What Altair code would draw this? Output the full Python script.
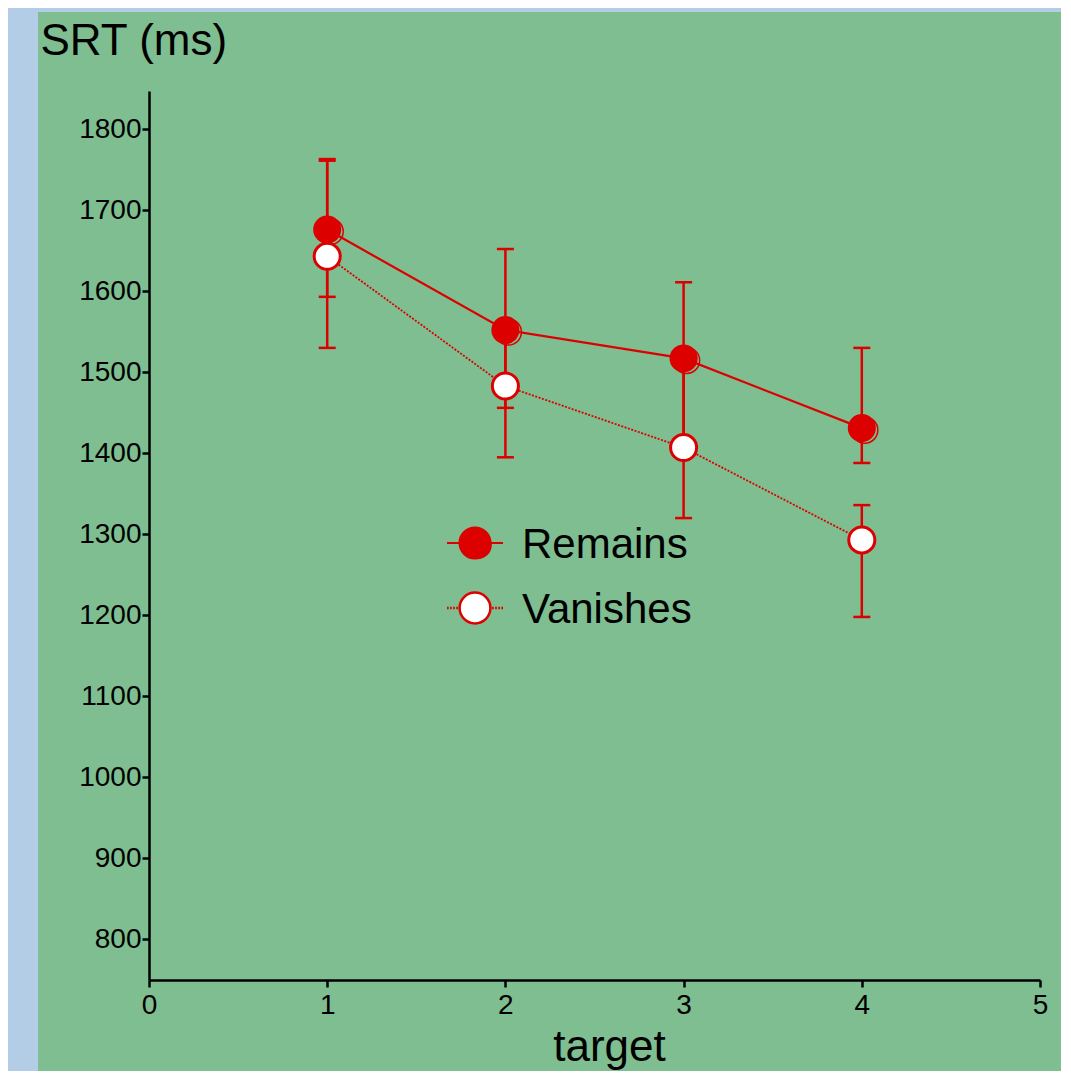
import altair as alt
import pandas as pd

# ---- data ----
targets = [1, 2, 3, 4]
remains_mean = [1676, 1552, 1517, 1431]
remains_low = [1593, 1456, 1412, 1388]
remains_high = [1763, 1652, 1611, 1530]
vanish_mean = [1643, 1483, 1407, 1293]
vanish_low = [1530, 1395, 1320, 1198]
vanish_high = [1761, 1560, 1512, 1336]
series_names = ["Remains", "Vanishes"]
x_ticks = [0, 1, 2, 3, 4, 5]
y_ticks = [800, 900, 1000, 1100, 1200, 1300, 1400, 1500, 1600, 1700, 1800]

RED = "#dc0000"
GREEN = "#7ebe90"
BLUE = "#b4cde6"
FONT = "Liberation Sans"

rows = []
for s, m, lo, hi in [("Remains", remains_mean, remains_low, remains_high),
                     ("Vanishes", vanish_mean, vanish_low, vanish_high)]:
    for t, a, b, c in zip(targets, m, lo, hi):
        rows.append({"series": s, "target": t, "srt": a, "low": b, "high": c})
df = pd.DataFrame(rows)
legend_df = pd.DataFrame({"series": series_names})

W, H = 891, 889
x_scale = alt.Scale(domain=[0, 5], nice=False, zero=False)
y_scale = alt.Scale(domain=[750, 1847], nice=False, zero=False)

x_axis = alt.Axis(values=x_ticks, format="d", title="target", labelPadding=4, labelFlush=False,
                  titleX=460, titleY=80, titleBaseline="alphabetic", titleAlign="center",
                  zindex=1)
y_axis = alt.Axis(values=y_ticks, format="d", title="SRT (ms)", labelPadding=1, labelFlush=False,
                  titleAngle=0, titleX=-109, titleY=-37, titleAlign="left",
                  titleBaseline="alphabetic", zindex=1)

X = alt.X("target:Q", scale=x_scale, axis=x_axis)

def Y(field):
    return alt.Y(field, scale=y_scale, axis=y_axis)

base = alt.Chart(df)

bg = alt.Chart(pd.DataFrame({"k": [0]})).mark_rect(color=GREEN).encode(
    x=alt.value(-111), x2=alt.value(912), y=alt.value(-79), y2=alt.value(980)
)

bars = base.mark_rule(color=RED, strokeWidth=2.5).encode(x=X, y=Y("low:Q"), y2="high:Q")
caps_lo = base.mark_tick(color=RED, orient="horizontal", size=17, thickness=2.5, opacity=1).encode(
    x=X, y=Y("low:Q"))
caps_hi = base.mark_tick(color=RED, orient="horizontal", size=17, thickness=2.5, opacity=1).encode(
    x=X, y=Y("high:Q"))

rem = base.transform_filter(alt.datum.series == "Remains")
van = base.transform_filter(alt.datum.series == "Vanishes")

rem_line = rem.mark_line(color=RED, strokeWidth=2.2).encode(x=X, y=Y("srt:Q"))
van_line = van.mark_line(color=RED, strokeWidth=1.8, strokeDash=[2, 1.5]).encode(x=X, y=Y("srt:Q"))

MS = 680
rem_ring = rem.mark_point(filled=False, color=RED, strokeWidth=1.5, size=MS, opacity=1,
                          xOffset=3, yOffset=2).encode(x=X, y=Y("srt:Q"))
rem_pts = rem.mark_point(filled=True, fill=RED, stroke=RED, strokeWidth=2, size=MS,
                         opacity=1).encode(x=X, y=Y("srt:Q"))
van_pts = van.mark_point(filled=True, fill="white", stroke=RED, strokeWidth=3, size=MS,
                         opacity=1).encode(x=X, y=Y("srt:Q"))

# ---- hand-built legend (symbol with line segment, as in the reference) ----
circle = "M0.55,0A0.55,0.55,0,1,1,-0.55,0A0.55,0.55,0,1,1,0.55,0Z"
path_r = "M-1,0H-0.55M0.55,0H1" + circle
path_v = ("M-1,0H-0.94M-0.89,0H-0.83M-0.78,0H-0.72M-0.67,0H-0.61"
          "M0.61,0H0.67M0.72,0H0.78M0.83,0H0.89M0.94,0H1" + circle)

LX, LY1, LY2 = 326, 452, 517
leg_src = alt.Chart(legend_df)
leg_r = leg_src.transform_filter(alt.datum.series == "Remains")
leg_v = leg_src.transform_filter(alt.datum.series == "Vanishes")

leg_r_ring = leg_r.mark_point(filled=False, stroke=RED, strokeWidth=1.5, size=MS, opacity=1,
                              shape="circle").encode(x=alt.value(LX + 3), y=alt.value(LY1 + 2))
leg_r_sym = leg_r.mark_point(filled=True, fill=RED, stroke=RED, strokeWidth=2.2, opacity=1,
                             shape=path_r, size=3136).encode(x=alt.value(LX), y=alt.value(LY1))
leg_v_sym = leg_v.mark_point(filled=True, fill="white", stroke=RED, strokeWidth=2.5, opacity=1,
                             shape=path_v, size=3136).encode(x=alt.value(LX), y=alt.value(LY2))
leg_r_txt = leg_r.mark_text(font=FONT, fontSize=42, color="black", align="left",
                            baseline="middle").encode(
    x=alt.value(LX + 47), y=alt.value(LY1 + 2), text="series:N")
leg_v_txt = leg_v.mark_text(font=FONT, fontSize=42, color="black", align="left",
                            baseline="middle").encode(
    x=alt.value(LX + 47), y=alt.value(LY2 + 2), text="series:N")

chart = alt.layer(
    bg, bars, caps_lo, caps_hi, rem_line, van_line, rem_ring, rem_pts, van_pts,
    leg_r_ring, leg_r_sym, leg_v_sym, leg_r_txt, leg_v_txt
).properties(
    width=W, height=H, background=BLUE,
    padding={"left": 141, "top": 83, "right": 21, "bottom": 91},
    autosize=alt.AutoSizeParams(type="none"),
).configure_view(stroke=None).configure_axis(
    domainColor="black", domainWidth=2.5, tickColor="black", tickWidth=2.5, tickSize=7,
    labelFont=FONT, labelFontSize=28, labelColor="black", grid=False,
    titleFont=FONT, titleFontSize=44, titleFontWeight="normal", titleColor="black",
)

chart.save("out.html", embed_options={"renderer": "svg", "actions": False})
